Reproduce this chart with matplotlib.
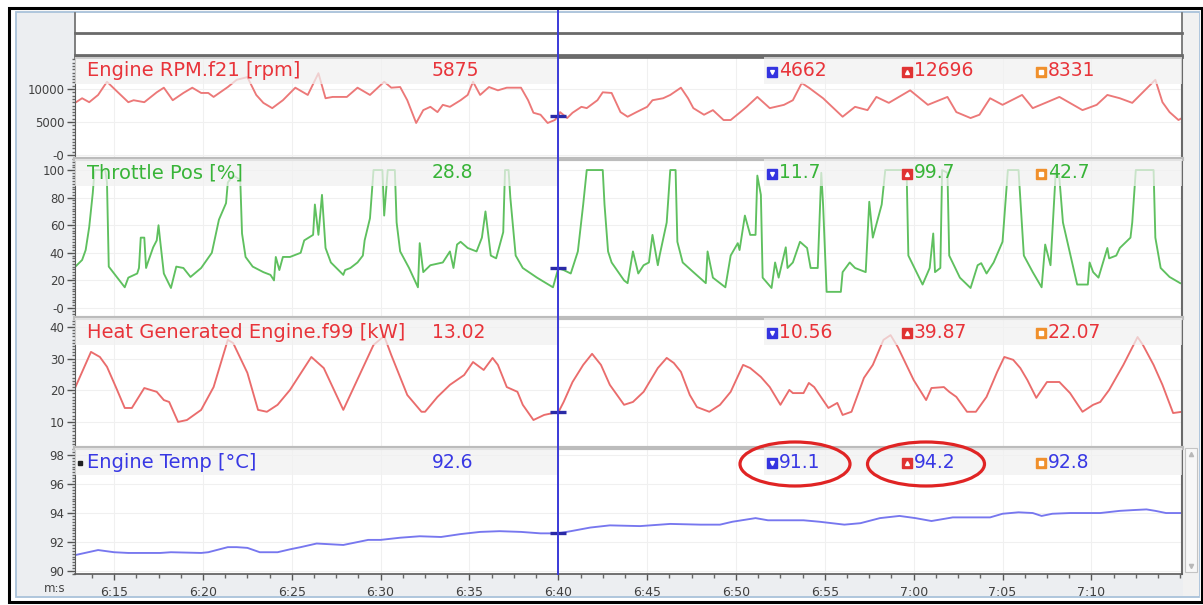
import matplotlib
matplotlib.use("Agg")
import matplotlib.pyplot as plt
import matplotlib.transforms as mtransforms
from matplotlib.patches import Rectangle, Ellipse
from matplotlib.ticker import FixedLocator, MultipleLocator, FuncFormatter

W, H = 1203, 605

# ---- logged channels (time in seconds of the session) ----
rpm_t = [372.8, 373.2, 373.6, 374.1, 374.6, 375.1, 375.8, 376.1, 376.7, 377.4,
         377.8, 378.3, 378.9, 379.4, 379.9, 380.3, 380.6, 381.4, 381.9, 382.5,
         383.0, 383.4, 383.9, 384.5, 385.2, 385.9, 386.5, 386.9, 387.3, 388.1,
         388.7, 389.4, 390.2, 390.6, 391.1, 391.5, 392.0, 392.4, 392.8, 393.2,
         393.5, 393.9, 394.5, 394.9, 395.2, 395.6, 396.1, 396.6, 397.1, 397.9,
         398.3, 398.6, 399.0, 399.4, 399.8, 400.0, 400.1, 400.5, 400.8, 401.3,
         401.6, 402.2, 402.5, 403.0, 403.5, 403.9, 404.4, 405.0, 405.3, 405.9,
         406.3, 406.9, 407.3, 407.6, 408.2, 408.7, 409.3, 409.7, 410.2, 410.6,
         411.2, 411.9, 412.7, 413.2, 413.7, 414.1, 414.9, 416.0, 416.7, 417.4,
         417.9, 418.6, 419.8, 420.8, 421.9, 422.4, 423.2, 423.7, 424.3, 425.0,
         426.1, 426.7, 427.5, 428.2, 429.5, 430.3, 430.9, 431.6, 432.3, 433.6,
         434.0, 434.4, 434.9, 435.1]
rpm_v = [7900, 8600, 8000, 9100, 11100, 9800, 8000, 8300, 8000, 9500,
         10200, 8300, 9400, 10200, 9400, 9400, 8800, 10300, 11400, 11800,
         9100, 7900, 7100, 8300, 10200, 9100, 12400, 8600, 8800, 8800,
         10200, 9100, 11100, 10200, 10300, 8300, 4850, 6800, 7300, 6500,
         7600, 7300, 8300, 9100, 11100, 9100, 10300, 9800, 10200, 10200,
         8300, 6400, 6100, 4850, 5300, 5875, 6500, 5600, 6400, 7300,
         7100, 8300, 9500, 9400, 6500, 5800, 6500, 7300, 8300, 8600,
         9100, 10200, 8600, 7100, 6100, 6800, 5300, 5300, 6400, 7300,
         8800, 7100, 7600, 8300, 10900, 10200, 8600, 5800, 7300, 6800,
         8800, 7900, 9800, 7600, 8800, 6500, 5600, 6100, 8600, 7600,
         9100, 7100, 8000, 8800, 6800, 7600, 9100, 8600, 7900, 11400,
         8000, 6500, 5300, 5600]

thr_t = [372.8, 373.2, 373.4, 373.6, 373.8, 373.9, 374.5, 374.6, 374.7, 375.0,
         375.6, 375.8, 376.3, 376.4, 376.5, 376.7, 376.8, 376.9, 377.2, 377.4,
         377.5, 377.6, 377.8, 378.2, 378.5, 378.9, 379.3, 379.9, 380.5, 380.9,
         381.3, 381.4, 381.7, 382.1, 382.2, 382.4, 382.8, 383.4, 383.8, 384.0,
         384.1, 384.3, 384.5, 384.9, 385.5, 385.7, 386.2, 386.3, 386.5, 386.7,
         386.9, 387.2, 387.9, 388.0, 388.3, 388.7, 389.0, 389.1, 389.4, 389.6,
         390.1, 390.2, 390.4, 390.8, 390.9, 391.1, 391.6, 392.1, 392.2, 392.4,
         392.8, 393.5, 393.9, 394.1, 394.3, 394.5, 394.9, 395.4, 395.7, 395.9,
         396.2, 396.5, 396.9, 397.0, 397.2, 397.3, 397.6, 398.0, 398.8, 399.7,
         400.0, 400.3, 400.7, 401.1, 401.4, 401.6, 402.5, 402.6, 402.8, 403.0,
         403.7, 403.9, 404.2, 404.5, 404.8, 405.1, 405.3, 405.6, 405.7, 406.1,
         406.3, 406.6, 406.7, 407.0, 407.6, 408.3, 408.4, 408.7, 409.0, 409.4,
         409.7, 410.1, 410.2, 410.5, 410.8, 411.1, 411.2, 411.4, 411.5, 412.0,
         412.2, 412.4, 412.8, 412.9, 413.2, 413.6, 414.0, 414.2, 414.6, 414.8,
         414.9, 415.1, 415.9, 416.0, 416.4, 416.7, 417.3, 417.5, 417.7, 418.2,
         418.4, 419.6, 419.7, 420.5, 420.9, 421.1, 421.2, 421.5, 421.6, 421.9,
         422.0, 422.6, 423.2, 423.6, 423.8, 424.1, 424.5, 425.0, 425.3, 425.9,
         426.2, 426.7, 427.2, 427.4, 427.7, 428.0, 428.2, 428.4, 429.2, 429.8,
         429.9, 430.1, 430.4, 430.9, 431.0, 431.4, 431.6, 432.2, 432.3, 432.5,
         433.5, 433.6, 433.9, 434.4, 435.0]
thr_v = [29.7, 34.8, 42, 58.7, 83.3, 100, 100, 91, 30, 25,
         15, 22, 25, 29, 51, 51, 29, 33, 44, 49,
         60, 48, 25, 14.5, 30, 29, 22.5, 29, 40, 64,
         76, 91, 96, 93, 54, 37, 30, 26, 24, 20,
         37, 27.5, 37, 37, 40, 49, 53, 75, 53, 82,
         43.5, 33, 24, 27.5, 29, 33, 38, 49, 65, 100,
         100, 67, 100, 100, 62, 41, 29, 15, 47, 26,
         31, 33, 41, 29, 46, 48, 43.5, 41, 51, 70,
         38, 36, 55, 100, 100, 80, 38, 29, 22, 15,
         28.8, 27.5, 25, 41, 75, 100, 100, 75, 41, 33,
         20, 18, 41, 25, 31, 33, 53, 31, 38, 62,
         100, 100, 48, 33, 26, 18, 41, 22, 19, 15,
         38, 47, 42, 67, 53, 53, 96, 82, 22, 14.5,
         33, 22, 44, 29, 33, 48, 43.5, 29, 29, 98,
         75, 11.7, 11.7, 26, 33, 29, 26, 77, 51, 75,
         100, 100, 38, 17, 29, 54, 26, 29, 100, 98,
         38, 22, 14.5, 31, 32.5, 25, 33, 48, 100, 100,
         38, 26, 15, 46, 31, 100, 94, 62, 17, 17,
         33, 26, 22, 43.5, 36, 38, 43.5, 51, 62, 100,
         100, 51, 29, 22.5, 18]

heat_t = [372.8, 373.7, 374.2, 374.6, 375.1, 375.6, 376.0, 376.7, 377.4, 377.8,
          378.1, 378.6, 379.1, 379.9, 380.6, 381.4, 381.7, 382.5, 383.1, 383.6,
          384.2, 384.9, 386.1, 386.8, 387.9, 389.6, 390.2, 390.6, 391.5, 392.3,
          392.5, 393.2, 393.9, 394.7, 395.2, 395.8, 396.3, 396.6, 397.1, 397.7,
          398.0, 398.6, 399.2, 399.7, 400.0, 400.3, 400.8, 401.4, 401.9, 402.4,
          402.9, 403.7, 404.2, 404.8, 405.6, 406.1, 406.5, 406.9, 407.4, 407.8,
          408.5, 409.1, 409.7, 410.4, 410.8, 411.4, 411.9, 412.5, 413.0, 413.2,
          413.8, 414.1, 414.4, 415.2, 415.7, 416.0, 416.5, 417.2, 417.7, 418.3,
          418.7, 419.1, 420.0, 420.7, 421.0, 421.7, 422.0, 422.4, 423.0, 423.5,
          424.1, 424.7, 425.1, 425.6, 426.0, 426.4, 426.9, 427.5, 428.2, 428.8,
          429.5, 430.1, 430.5, 431.0, 431.8, 432.6, 432.9, 433.5, 434.0, 434.6,
          435.1]
heat_v = [20.7, 32.1, 30.5, 27.4, 21.0, 14.4, 14.4, 20.7, 19.5, 16.9,
          16.3, 10.0, 10.6, 13.8, 21.0, 35.9, 34.9, 25.5, 13.8, 13.2,
          15.4, 20.1, 30.5, 27.0, 13.8, 34.3, 37.1, 31.1, 18.5, 13.2,
          13.2, 17.9, 21.7, 24.8, 28.9, 26.4, 30.2, 28.0, 21.0, 19.5,
          15.4, 10.6, 12.2, 12.8, 13.02, 16.3, 22.6, 28.0, 31.5, 28.0,
          21.7, 15.4, 16.3, 19.5, 27.0, 30.2, 28.6, 25.8, 18.5, 14.7,
          13.2, 15.4, 19.5, 28.0, 27.0, 24.2, 21.0, 15.4, 20.1, 19.1,
          19.1, 22.3, 21.0, 14.4, 16.0, 12.2, 13.2, 23.9, 28.0, 35.9,
          37.4, 33.7, 23.2, 16.9, 20.7, 21.0, 19.5, 17.9, 13.2, 13.2,
          17.9, 25.8, 30.5, 29.6, 27.0, 23.2, 17.6, 22.6, 22.6, 19.1,
          13.2, 15.4, 16.3, 20.1, 28.0, 36.8, 34.3, 28.0, 21.7, 12.8,
          13.2]

temp_t = [372.8, 374.1, 375.0, 375.8, 377.6, 378.2, 379.9, 380.3, 381.4, 381.9,
          382.5, 383.2, 384.2, 384.9, 385.5, 386.4, 387.9, 389.3, 390.0, 391.1,
          392.2, 393.4, 394.5, 395.6, 396.7, 397.9, 399.0, 400.0, 400.7, 401.8,
          402.9, 404.6, 406.3, 408.0, 409.1, 409.8, 411.1, 411.8, 412.7, 413.8,
          414.7, 416.1, 417.0, 418.1, 419.2, 420.1, 421.0, 422.2, 424.3, 425.0,
          425.9, 426.7, 427.2, 427.8, 428.8, 430.5, 431.6, 432.3, 433.1, 433.6,
          434.2, 435.1]
temp_v = [91.1, 91.45, 91.3, 91.25, 91.25, 91.3, 91.25, 91.3, 91.65, 91.65,
          91.6, 91.3, 91.3, 91.5, 91.65, 91.9, 91.8, 92.15, 92.15, 92.3,
          92.4, 92.35, 92.55, 92.7, 92.75, 92.7, 92.6, 92.6, 92.75, 93.0,
          93.15, 93.1, 93.25, 93.2, 93.2, 93.4, 93.65, 93.5, 93.5, 93.5,
          93.4, 93.2, 93.3, 93.65, 93.8, 93.65, 93.45, 93.7, 93.7, 93.95,
          94.05, 94.0, 93.8, 93.95, 94.0, 94.0, 94.15, 94.2, 94.25, 94.15,
          94.0, 94.0]

channel_names = ["Engine RPM.f21 [rpm]", "Throttle Pos [%]",
                 "Heat Generated Engine.f99 [kW]", "Engine Temp [°C]"]
cursor_time = 400.0
cursor_values = [5875, 28.8, 13.02, 92.6]
min_values = [4662, 11.7, 10.56, 91.1]
max_values = [12696, 99.7, 39.87, 94.2]
avg_values = [8331, 42.7, 22.07, 92.8]
y_tick_values = [[0, 5000, 10000], [0, 20, 40, 60, 80, 100],
                 [10, 20, 30, 40], [90, 92, 94, 96, 98]]
x_tick_values = [375, 380, 385, 390, 395, 400, 405, 410, 415, 420, 425, 430]

series_t = [rpm_t, thr_t, heat_t, temp_t]
series_v = [rpm_v, thr_v, heat_v, temp_v]
decimals = [0, 1, 2, 1]

# ---- styling / layout ----
label_colors = ["#e8343a", "#38b438", "#e8343a", "#3838e4"]
line_colors = ["#ec7878", "#5fc05f", "#ea6c6c", "#7777ef"]
y_limits = [(-303, 14850), (-5.8, 108), (2.4, 42.8), (89.8, 98.48)]
minor_steps = [500, 2, 1, 0.2]
panel_px = [(57, 157), (159, 316), (318, 446), (448, 574)]
x_limits = (372.8, 435.1)
PX0, PX1 = 75, 1182
HEADER_PX = 27


def px_rect(x0, y0, x1, y1):
    return [x0 / W, 1 - y1 / H, (x1 - x0) / W, (y1 - y0) / H]


def y_label(v, _pos):
    return "-0" if v == 0 else f"{v:g}"


def ms_label(s, _pos):
    s = int(round(s))
    return f"{s // 60}:{s % 60:02d}"


fig = plt.figure(figsize=(W / 100, H / 100), dpi=100)

# window background
bg = fig.add_axes([0, 0, 1, 1], zorder=0)
bg.set_xlim(0, W)
bg.set_ylim(H, 0)
bg.axis("off")
bg.add_patch(Rectangle((0, 0), W, H, fc="white", ec="none"))
bg.add_patch(Rectangle((16, 12), 1183, 585, fc="#eceef1", ec="#a9c2da", lw=1.3))
bg.add_patch(Rectangle((1183, 13), 16, 583, fc="#f1f1f1", ec="none"))

# two empty strips above the channels
for top, bot in [(13, 33), (35, 55)]:
    s = fig.add_axes(px_rect(PX0, top, PX1, bot), zorder=1)
    s.set_xlim(*x_limits)
    s.set_xticks([])
    s.set_yticks([])
    s.set_facecolor("white")
    for side in ["left", "right"]:
        s.spines[side].set_color("#6a6a6a")
        s.spines[side].set_linewidth(1.2)
    s.spines["top"].set_visible(False)
    s.spines["bottom"].set_color("#6a6a6a")
    s.spines["bottom"].set_linewidth(2)

fg = fig.add_axes([0, 0, 1, 1], zorder=10)
fg.set_xlim(0, W)
fg.set_ylim(H, 0)
fg.axis("off")
fg.patch.set_alpha(0)

axes = []
for i in range(4):
    top, bot = panel_px[i]
    ax = fig.add_axes(px_rect(PX0, top, PX1, bot), zorder=2)
    axes.append(ax)
    ax.set_facecolor("white")
    ax.plot(series_t[i], series_v[i], color=line_colors[i], lw=1.35, zorder=2)
    ax.set_xlim(*x_limits)
    ax.set_ylim(*y_limits[i])

    ax.yaxis.set_major_locator(FixedLocator(y_tick_values[i]))
    ax.yaxis.set_minor_locator(MultipleLocator(minor_steps[i]))
    ax.yaxis.set_major_formatter(FuncFormatter(y_label))
    ax.tick_params(axis="y", which="major", length=6, width=1, color="#555555",
                   labelsize=8.5, labelcolor="#404040", pad=1.5)
    ax.tick_params(axis="y", which="minor", length=2.5, width=1, color="#666666")
    ax.xaxis.set_major_locator(FixedLocator(x_tick_values))
    ax.grid(which="major", color="#f0f0f0", lw=0.8)
    ax.set_axisbelow(True)

    ax.spines["left"].set_color("#5a5a5a")
    ax.spines["right"].set_color("#6a6a6a")
    ax.spines["right"].set_linewidth(1.5)
    if i == 0:
        ax.spines["top"].set_color("#6a6a6a")
        ax.spines["top"].set_linewidth(2)
    else:
        ax.spines["top"].set_color("#bcbcbc")
        ax.spines["top"].set_linewidth(3)

    if i < 3:
        ax.spines["bottom"].set_visible(False)
        ax.tick_params(axis="x", which="both", bottom=False, labelbottom=False)
    else:
        ax.spines["bottom"].set_color("#5a5a5a")
        ax.spines["bottom"].set_linewidth(1.2)
        ax.xaxis.set_major_formatter(FuncFormatter(ms_label))
        ax.xaxis.set_minor_locator(MultipleLocator(1.25))
        ax.tick_params(axis="x", which="major", length=4, width=1, color="#555555",
                       labelsize=9, labelcolor="#404040", pad=5)
        ax.tick_params(axis="x", which="minor", length=3, width=1, color="#666666")

    # header bands (semi-transparent, so the trace shows faintly through them)
    hfrac = HEADER_PX / (bot - top)
    btr = mtransforms.blended_transform_factory(ax.transData, ax.transAxes)
    ax.add_patch(Rectangle((x_limits[0], 1 - hfrac), cursor_time - x_limits[0], hfrac,
                           transform=btr, fc="#f1f1f1", ec="none", alpha=0.72, zorder=3))
    ax.add_patch(Rectangle((411.6, 1 - hfrac), x_limits[1] - 411.6, hfrac,
                           transform=btr, fc="#f1f1f1", ec="none", alpha=0.72, zorder=3))

    # cursor marker on the trace
    ax.plot([cursor_time - 0.45, cursor_time + 0.45], [cursor_values[i]] * 2,
            color="#2a2aa6", lw=2.4, zorder=5, solid_capstyle="butt")

    # header texts
    yc = top + 14
    fmt = "{:.%df}" % decimals[i]
    fg.text(87, yc, channel_names[i], color=label_colors[i], fontsize=14,
            va="center", ha="left")
    fg.text(432, yc, fmt.format(cursor_values[i]), color=label_colors[i],
            fontsize=13.5, va="center", ha="left")
    for cx, val, box, glyph in [(772, min_values[i], "#3434e0", "v"),
                                (907, max_values[i], "#e03232", "^"),
                                (1041, avg_values[i], "#f0902c", "s")]:
        fg.plot(cx, yc + 0.5, marker="s", ms=7, color=box, mec=box)
        fg.plot(cx, yc + 0.5, marker=glyph, ms=2.8 if glyph != "s" else 2.3,
                color="white", mec="white")
        fg.text(cx + 7, yc, fmt.format(val), color=label_colors[i],
                fontsize=13.5, va="center", ha="left")

fg.plot(80, 463, marker="s", ms=2.2, color="#222222")
fg.text(55, 588, "m:s", fontsize=8.5, color="#454545", ha="center", va="center")

# cursor line through all channels
ctr = mtransforms.blended_transform_factory(axes[3].transData, fg.transData)
fg.plot([cursor_time, cursor_time], [10, 574], transform=ctr,
        color="#3a3ad8", lw=1.4, zorder=1)

# scrollbar beside the last channel
fg.add_patch(Rectangle((1185, 448), 12, 124, fc="#f7f7f7", ec="#c4c4c4", lw=0.8))
fg.plot(1191, 454, marker="^", ms=3, color="#b8b8b8")
fg.plot(1191, 566, marker="v", ms=3, color="#b8b8b8")

# highlighted statistics
for cx, w in [(795, 110), (926, 117)]:
    fg.add_patch(Ellipse((cx, 464), w, 44, fill=False, ec="#e02424", lw=2.3))

# outer frame
fg.add_patch(Rectangle((8.5, 7.5), 1193, 594, fill=False, ec="black", lw=2.2))

fig.savefig("out.png", dpi=100)
